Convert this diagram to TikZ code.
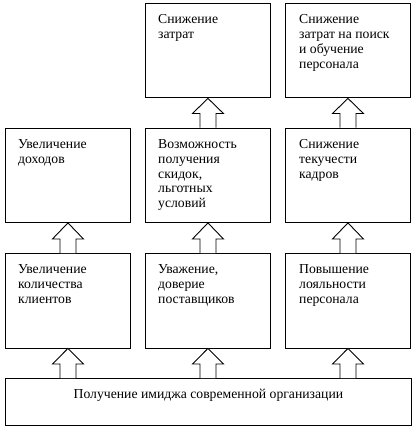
\documentclass[tikz,border=0pt]{standalone}
\usepackage{fontspec}
\setmainfont{Liberation Serif}
\usetikzlibrary{calc}
\newcommand\blkarrow[2]{% #1 upper box, #2 lower box
  \draw[blk] ($(#1.south |- #2.north)+(-8,0)$) -- ++(0,-14) -- ++(-7.5,0) -- (#1.south)
    -- ($(#1.south |- #2.north)+(15.5,-14)$) -- ++(-7.5,0) -- ++(0,14);}
\newcommand\toplines[1]{\begin{tabular}[t]{@{}l@{}}#1\end{tabular}}
\begin{document}
\begin{tikzpicture}[x=1pt,y=-1pt,
  box/.style={draw, line width=0.9pt, minimum width=125pt, minimum height=94.5pt, inner sep=0pt, anchor=north west},
  txt/.style={anchor=base west, inner sep=0pt, font=\fontsize{13.7}{14.75}\selectfont},
  blk/.style={draw, line width=0.9pt, fill=white}]
\useasboundingbox (0,0) rectangle (418,433);
% boxes
\node[box] (r1b) at (145,3) {};
\node[box] (r1c) at (285,3) {};
\node[box] (r2a) at (5,127.5) {};
\node[box] (r2b) at (145,127.5) {};
\node[box] (r2c) at (285,127.5) {};
\node[box] (r3a) at (5,253) {};
\node[box] (r3b) at (145,253) {};
\node[box] (r3c) at (285,253) {};
\node[box, minimum width=406pt, minimum height=47pt] (bot) at (5,378) {};
% texts
\node[txt] (t1b) at ($(r1b.north west)+(13,21)$) {\toplines{Снижение\\затрат}};
\node[txt] (t1c) at ($(r1c.north west)+(14,21)$) {\toplines{Снижение\\затрат на поиск\\и обучение\\персонала}};
\node[txt] (t2a) at ($(r2a.north west)+(13,21)$) {\toplines{Увеличение\\доходов}};
\node[txt] (t2b) at ($(r2b.north west)+(13,21)$) {\toplines{Возможность\\получения\\скидок,\\льготных\\условий}};
\node[txt] (t2c) at ($(r2c.north west)+(14,21)$) {\toplines{Снижение\\текучести\\кадров}};
\node[txt] (t3a) at ($(r3a.north west)+(13,20.5)$) {\toplines{Увеличение\\количества\\клиентов}};
\node[txt] (t3b) at ($(r3b.north west)+(13,20.5)$) {\toplines{Уважение,\\доверие\\поставщиков}};
\node[txt] (t3c) at ($(r3c.north west)+(14,20.5)$) {\toplines{Повышение\\лояльности\\персонала}};
\node[txt, anchor=base] (tbot) at ($(bot.north)+(0,20)$) {Получение имиджа современной организации};
% block arrows
\blkarrow{r1b}{r2b}
\blkarrow{r1c}{r2c}
\blkarrow{r2a}{r3a}
\blkarrow{r2b}{r3b}
\blkarrow{r2c}{r3c}
\blkarrow{r3a}{bot}
\blkarrow{r3b}{bot}
\blkarrow{r3c}{bot}
\end{tikzpicture}
\end{document}
